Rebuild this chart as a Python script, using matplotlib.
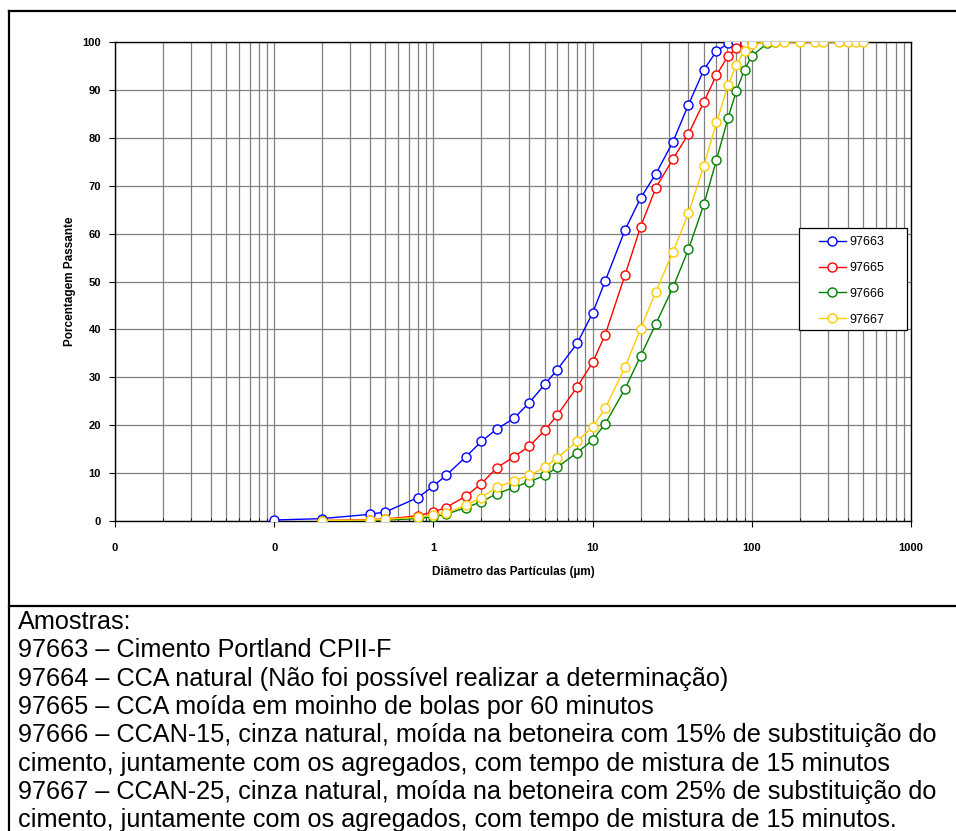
import matplotlib
matplotlib.use('Agg')
import matplotlib.pyplot as plt
from matplotlib.ticker import FixedLocator, FixedFormatter, LogLocator, NullFormatter
from matplotlib.lines import Line2D
from matplotlib.patches import Rectangle

plt.rcParams['font.family'] = ['Liberation Sans', 'DejaVu Sans']

# diametros (um) e porcentagem passante
diam_97663 = [0.1, 0.2, 0.4, 0.5, 0.8, 1.0, 1.2, 1.6, 2.0, 2.5, 3.2, 4, 5, 6, 8, 10, 12,
              16, 20, 25, 32, 40, 50, 60, 71, 80, 90, 100]
pass_97663 = [0.2, 0.5, 1.4, 1.9, 4.9, 7.3, 9.5, 13.4, 16.6, 19.2, 21.4, 24.7, 28.5, 31.6,
              37.1, 43.4, 50.1, 60.8, 67.4, 72.5, 79.2, 86.9, 94.2, 98.1, 99.7, 100, 100, 100]

diam_97665 = [0.2, 0.4, 0.5, 0.8, 1.0, 1.2, 1.6, 2.0, 2.5, 3.2, 4, 5, 6, 8, 10, 12,
              16, 20, 25, 32, 40, 50, 60, 71, 80, 90, 100]
pass_97665 = [0.1, 0.3, 0.4, 1.1, 1.9, 2.8, 5.2, 7.8, 11.1, 13.4, 15.6, 18.9, 22.1, 28.0,
              33.1, 38.9, 51.4, 61.4, 69.6, 75.6, 80.8, 87.5, 93.1, 97.1, 98.7, 99.7, 100]

diam_97666 = [0.2, 0.4, 0.5, 0.8, 1.0, 1.2, 1.6, 2.0, 2.5, 3.2, 4, 5, 6, 8, 10, 12,
              16, 20, 25, 32, 40, 50, 60, 71, 80, 90, 100, 125, 140]
pass_97666 = [0.0, 0.1, 0.2, 0.5, 0.9, 1.4, 2.8, 4.0, 5.7, 7.0, 8.2, 9.5, 11.2, 14.3, 16.9,
              20.3, 27.6, 34.4, 41.2, 48.8, 56.7, 66.1, 75.4, 84.2, 89.8, 94.2, 97.1, 99.7, 100]

diam_97667 = [0.2, 0.4, 0.5, 0.8, 1.0, 1.2, 1.6, 2.0, 2.5, 3.2, 4, 5, 6, 8, 10, 12,
              16, 20, 25, 32, 40, 50, 60, 71, 80, 90, 100, 125, 140, 160, 200, 250,
              280, 355, 400, 450, 500]
pass_97667 = [0.1, 0.2, 0.35, 0.8, 1.25, 1.6, 3.3, 4.9, 7.0, 8.4, 9.5, 11.2, 13.2, 16.6,
              19.7, 23.5, 32.2, 40.1, 47.9, 56.2, 64.2, 74.2, 83.2, 91.0, 95.3, 98.2, 99.6,
              100, 100, 100, 100, 100, 100, 100, 100, 100, 100]

series = [
    ('97663', diam_97663, pass_97663, '#0000FF'),
    ('97665', diam_97665, pass_97665, '#FF0000'),
    ('97666', diam_97666, pass_97666, '#008000'),
    ('97667', diam_97667, pass_97667, '#FFCC00'),
]

xticks = [0.01, 0.1, 1, 10, 100, 1000]
xtick_labels = ['0', '0', '1', '10', '100', '1000']
yticks = list(range(0, 101, 10))

notas = [
    'Amostras:',
    '97663 – Cimento Portland CPII-F',
    '97664 – CCA natural (Não foi possível realizar a determinação)',
    '97665 – CCA moída em moinho de bolas por 60 minutos',
    '97666 – CCAN-15, cinza natural, moída na betoneira com 15% de substituição do',
    'cimento, juntamente com os agregados, com tempo de mistura de 15 minutos',
    '97667 – CCAN-25, cinza natural, moída na betoneira com 25% de substituição do',
    'cimento, juntamente com os agregados, com tempo de mistura de 15 minutos.',
]

W, H = 956, 831
fig = plt.figure(figsize=(W / 100, H / 100), dpi=100)

ax = fig.add_axes([115 / W, 1 - 521 / H, (911 - 115) / W, (521 - 42) / H])
for nome, x, y, cor in series:
    ax.plot(x, y, color=cor, lw=1.0, marker='o', markersize=6.5,
            markerfacecolor='white', markeredgecolor=cor, markeredgewidth=1.0,
            label=nome, zorder=3)

ax.set_xscale('log')
ax.set_xlim(0.01, 1000)
ax.set_ylim(0, 100)
ax.xaxis.set_major_locator(FixedLocator(xticks))
ax.xaxis.set_major_formatter(FixedFormatter(xtick_labels))
ax.xaxis.set_minor_locator(LogLocator(base=10, subs=range(2, 10)))
ax.xaxis.set_minor_formatter(NullFormatter())
ax.set_yticks(yticks)

ax.grid(True, which='major', axis='both', color='#808080', lw=0.9)
ax.grid(True, which='minor', axis='x', color='#808080', lw=0.9)
ax.set_axisbelow(True)

ax.tick_params(axis='both', which='major', direction='out', length=4, width=0.8,
               labelsize=8, pad=6)
ax.tick_params(axis='x', which='minor', direction='in', length=2, width=0.6)
ax.tick_params(axis='x', which='major', pad=12)
for lbl in ax.get_xticklabels() + ax.get_yticklabels():
    lbl.set_fontweight('bold')
for s in ax.spines.values():
    s.set_color('black')
    s.set_linewidth(1.0)

ax.set_xlabel('Diâmetro das Partículas (µm)', fontsize=8.5, fontweight='bold', labelpad=9)
ax.set_ylabel('Porcentagem Passante', fontsize=8.5, fontweight='bold', labelpad=5)

# caixa da legenda
lx0, lx1 = (799 - 115) / 796, (907 - 115) / 796
ly0, ly1 = (521 - 330) / 479, (521 - 228) / 479
ax.add_patch(Rectangle((lx0, ly0), lx1 - lx0, ly1 - ly0, transform=ax.transAxes,
                       facecolor='white', edgecolor='black', lw=0.9, zorder=4))
leg = ax.legend(loc='center', bbox_to_anchor=((lx0 + lx1) / 2 - 0.002, (ly0 + ly1) / 2 - 0.004),
                fontsize=9, frameon=False, borderpad=0, borderaxespad=0,
                handlelength=2.2, labelspacing=1.1, handletextpad=0.25)
leg.set_zorder(5)

# moldura da tabela
borda = dict(color='black', lw=1.6, transform=fig.transFigure)
fig.add_artist(Line2D([9 / W, 9 / W], [0, 1 - 11 / H], **borda))
fig.add_artist(Line2D([9 / W, 1], [1 - 11 / H, 1 - 11 / H], **borda))
fig.add_artist(Line2D([9 / W, 1], [1 - 606 / H, 1 - 606 / H], **borda))

for i, linha in enumerate(notas):
    yy = 622 + i * 28.3
    fig.text(18 / W, 1 - yy / H, linha, fontsize=18.2, ha='left', va='center')

fig.savefig('out.png', dpi=100)
